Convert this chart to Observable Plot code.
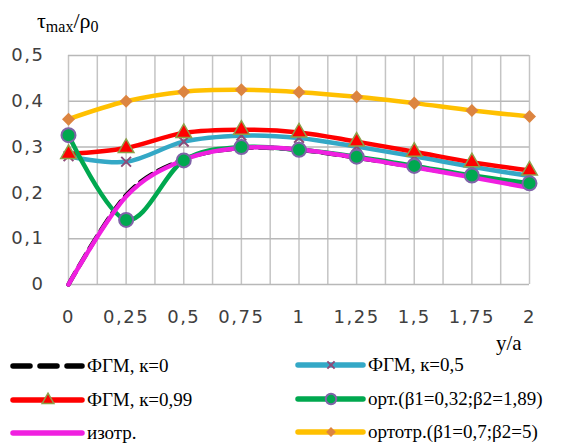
<!DOCTYPE html>
<html>
<head>
<meta charset="utf-8">
<script src="https://cdn.jsdelivr.net/npm/d3@7"></script>
<script src="https://cdn.jsdelivr.net/npm/@observablehq/plot@0.6"></script>
<style>
  html, body { margin: 0; padding: 0; background: #fff; }
  #chart { width: 562px; height: 443px; overflow: hidden; }
  #chart svg g[aria-label$="axis tick label"] text { letter-spacing: 1.5px; }
</style>
</head>
<body>
<div id="chart"></div>
<script>
// ---- data ----
const xVals = [0, 0.25, 0.5, 0.75, 1, 1.25, 1.5, 1.75, 2];
const fgm0   = [0, 0.195, 0.273, 0.298, 0.294, 0.277, 0.257, 0.236, 0.214];
const fgm05  = [0.28, 0.268, 0.312, 0.325, 0.320, 0.301, 0.280, 0.257, 0.237];
const fgm099 = [0.285, 0.298, 0.331, 0.338, 0.332, 0.312, 0.290, 0.267, 0.249];
const ort    = [0.326, 0.141, 0.271, 0.300, 0.294, 0.279, 0.259, 0.238, 0.221];
const izotr  = [0, 0.192, 0.272, 0.298, 0.295, 0.277, 0.256, 0.234, 0.211];
const ortotr = [0.361, 0.400, 0.421, 0.425, 0.420, 0.410, 0.396, 0.380, 0.367];

const seriesNames = ["ФГМ, к=0", "ФГМ, к=0,5", "ФГМ, к=0,99", "орт.(β1=0,32;β2=1,89)", "изотр.", "ортотр.(β1=0,7;β2=5)"];
const xTicks = [0, 0.25, 0.5, 0.75, 1, 1.25, 1.5, 1.75, 2];
const yTicks = [0, 0.1, 0.2, 0.3, 0.4, 0.5];

const fmt = d => String(d).replace(".", ",");
const SERIF = "'Liberation Serif', 'Times New Roman', serif";

const series = [
  {name: seriesNames[0], vals: fgm0,   line: "#000000", dash: "14,7", marker: null},
  {name: seriesNames[1], vals: fgm05,  line: "#34A8C6", marker: {symbol: "times", r: 4.5, fill: "none", stroke: "#8E4A78", sw: 2}},
  {name: seriesNames[2], vals: fgm099, line: "#FF0000", marker: {symbol: "triangle", r: 5.8, fill: "#FF0000", stroke: "#8DA04A", sw: 1.5}},
  {name: seriesNames[3], vals: ort,    line: "#00A84F", marker: {symbol: "circle", r: 7, fill: "#00A84F", stroke: "#7F63A8", sw: 2}},
  {name: seriesNames[4], vals: izotr,  line: "#F020E0", marker: null},
  {name: seriesNames[5], vals: ortotr, line: "#FFC000", marker: {symbol: "square", r: 5.2, fill: "#DC8440", stroke: "none", sw: 0, rotate: 45}}
];

const rows = series.map(s => s.vals.map((v, i) => ({x: xVals[i], y: v, name: s.name})));
const minorX = d3.range(0, 16.5).map(i => i * 0.125);

const marks = [
  Plot.gridX({ticks: minorX, stroke: "#c4c4c4", strokeOpacity: 1, strokeWidth: 1.5}),
  Plot.gridY({ticks: yTicks, stroke: "#b8b8b8", strokeOpacity: 1, strokeWidth: 1.5}),
  Plot.axisX({ticks: xTicks, tickSize: 0, tickPadding: 26, tickFormat: fmt, label: null, fill: "#404040"}),
  Plot.axisY({ticks: yTicks, tickSize: 0, tickPadding: 24, tickFormat: fmt, label: null, fill: "#404040"})
];
series.forEach((s, k) => {
  marks.push(Plot.line(rows[k], {
    x: "x", y: "y", curve: "cardinal", stroke: s.line, strokeWidth: 4.5,
    strokeDasharray: s.dash || null, strokeLinecap: "round", strokeLinejoin: "round"
  }));
});
series.forEach((s, k) => {
  if (!s.marker) return;
  const m = s.marker;
  marks.push(Plot.dot(rows[k], {
    x: "x", y: "y", symbol: m.symbol, r: m.r, fill: m.fill,
    stroke: m.stroke, strokeWidth: m.sw, rotate: m.rotate || 0
  }));
});

const chart = Plot.plot({
  width: 562, height: 443,
  marginTop: 55, marginLeft: 68, marginRight: 33, marginBottom: 159,
  x: {domain: [0, 2]},
  y: {domain: [0, 0.5]},
  style: {fontFamily: "'DejaVu Sans', sans-serif", fontSize: "18px", background: "#fff", overflow: "hidden"},
  marks
});
document.getElementById("chart").appendChild(chart);

const svg = d3.select(chart);

// ---- titles ----
const yt = svg.append("text").attr("x", 37).attr("y", 28).attr("text-anchor", "start")
  .attr("font-family", SERIF).attr("font-size", 22).attr("fill", "#000");
yt.append("tspan").text("τ");
yt.append("tspan").attr("font-size", 16).attr("dy", 4).text("max");
yt.append("tspan").attr("dy", -4).text("/ρ");
yt.append("tspan").attr("font-size", 16).attr("dy", 4).text("0");

svg.append("text").attr("x", 496).attr("y", 350).attr("text-anchor", "start")
  .attr("font-family", SERIF).attr("font-size", 21).attr("fill", "#000").text("y/a");

// ---- legend ----
const legPos = [
  {x: 10, y: 366}, {x: 295, y: 365},
  {x: 10, y: 400}, {x: 295, y: 399},
  {x: 10, y: 433}, {x: 295, y: 432}
];
const sym = {circle: d3.symbolCircle, triangle: d3.symbolTriangle, square: d3.symbolSquare, times: d3.symbolTimes};
const leg = svg.append("g").attr("aria-label", "legend");
series.forEach((s, i) => {
  const p = legPos[i];
  const lineW = (i % 2 === 0) ? 72 : 68;
  const g = leg.append("g").attr("transform", `translate(${p.x},${p.y})`);
  g.append("line").attr("x1", 3).attr("x2", lineW).attr("y1", 0).attr("y2", 0)
    .attr("stroke", s.line).attr("stroke-width", 5.5).attr("stroke-linecap", "round")
    .attr("stroke-dasharray", s.dash ? "17,10" : null);
  if (s.marker) {
    const m = s.marker;
    const size = Math.PI * (m.r * 0.75) ** 2;
    g.append("path").attr("d", d3.symbol(sym[m.symbol], size)())
      .attr("transform", `translate(${lineW / 2 + 2},0) rotate(${m.rotate || 0})`)
      .attr("fill", m.fill).attr("stroke", m.stroke).attr("stroke-width", m.sw);
  }
  g.append("text").attr("x", lineW + 5).attr("y", 6).attr("text-anchor", "start")
    .attr("font-family", SERIF).attr("font-size", 19).attr("fill", "#000")
    .text(s.name);
});
</script>
</body>
</html>
